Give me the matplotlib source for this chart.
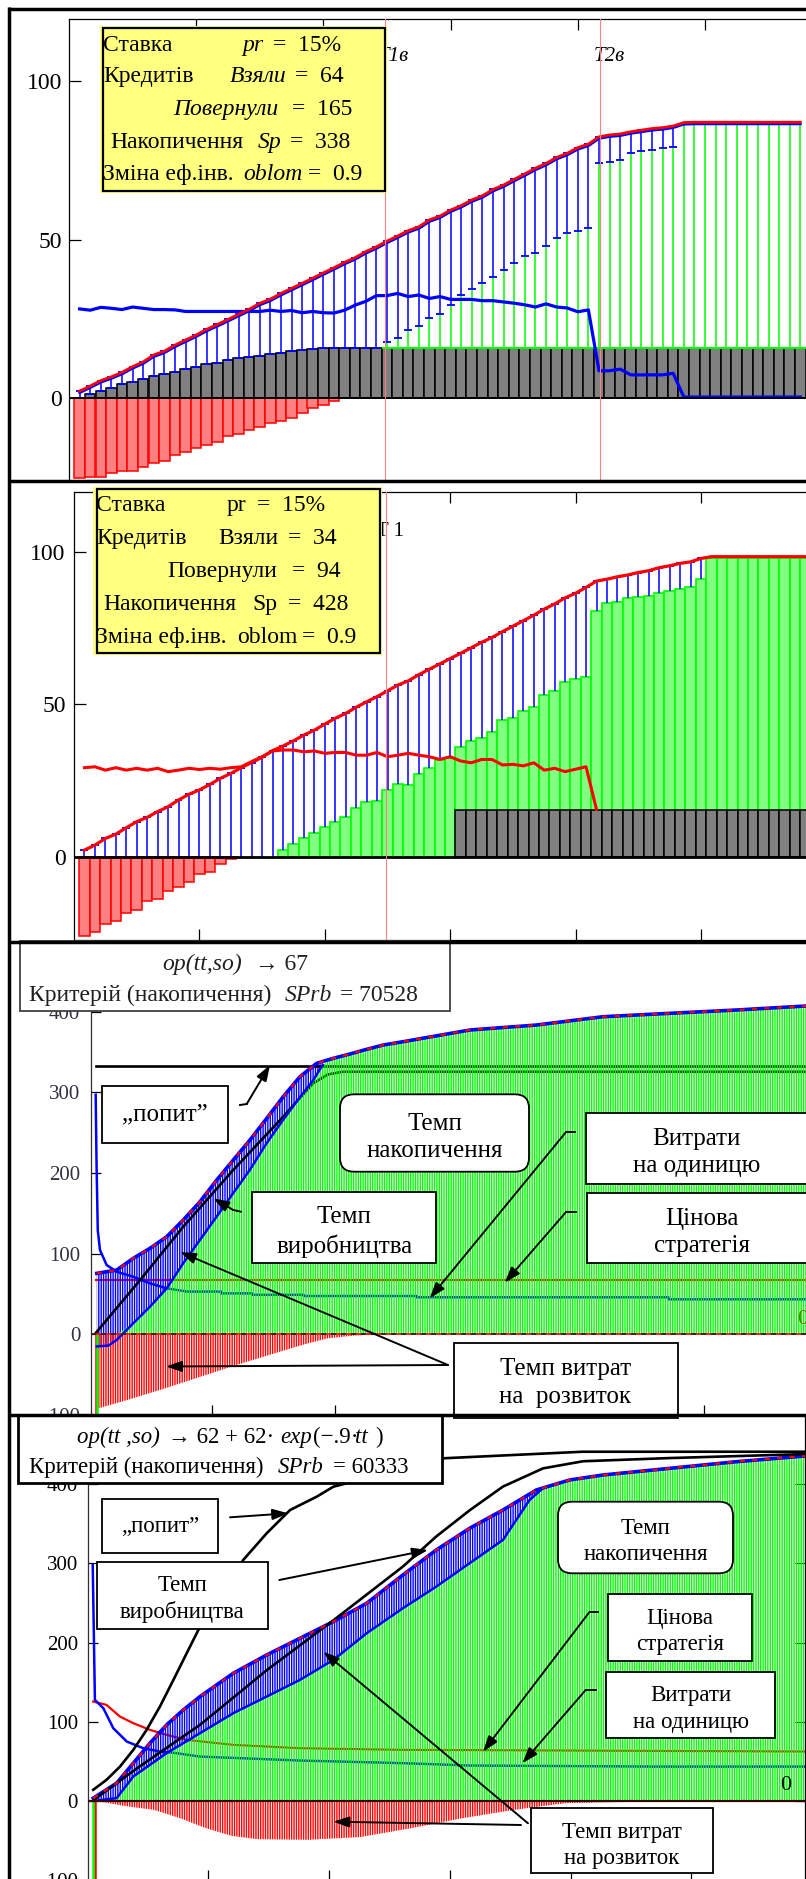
import numpy as np
import matplotlib
matplotlib.use("Agg")
import matplotlib.pyplot as plt
from matplotlib.patches import Rectangle, FancyBboxPatch, FancyArrowPatch
from matplotlib.lines import Line2D
from matplotlib.transforms import Affine2D, offset_copy

W, H = 806, 1879
plt.rcParams["font.family"] = ["Liberation Serif", "DejaVu Serif"]
plt.rcParams["hatch.linewidth"] = 1.0
plt.rcParams["axes.linewidth"] = 0.9

# ---------------------------------------------------------------- data
# Panel 1 (monthly, credit taken): top of the accumulation, lower end of the
# blue range, stock bars, development spending, unit costs
P1_TOP = [2.2, 3.8, 5.5, 6.7, 8.1, 9.9, 11.4, 13.6, 14.8, 16.7,
          18.3, 19.9, 21.7, 23.2, 24.8, 26.4, 28.0, 29.9, 31.2, 33.0,
          34.6, 36.2, 37.8, 39.5, 41.1, 42.8, 44.3, 46.2, 47.7, 49.5,
          51.1, 52.8, 54.0, 56.2, 57.4, 59.3, 60.7, 62.5, 63.8, 65.8,
          67.2, 69.0, 70.7, 72.5, 74.0, 75.9, 77.2, 79.0, 80.1, 82.4,
          83.0, 83.3, 84.0, 84.5, 85.0, 85.3, 85.8, 86.9, 87.0, 87.0,
          87.0, 87.0, 87.0, 87.0, 87.0, 87.0, 87.0, 87.0, 87.0]
P1_LOW = [0.0, 1.3, 2.2, 3.3, 4.3, 5.1, 6.1, 7.0, 7.5, 8.3,
          9.3, 9.9, 10.7, 11.1, 12.0, 12.5, 13.0, 13.4, 13.9, 14.3,
          14.8, 15.3, 15.4, 15.8, 15.9, 15.9, 15.9, 15.9, 15.9, 17.8,
          18.8, 21.5, 22.8, 25.2, 26.6, 29.4, 32.6, 34.5, 36.4, 38.3,
          40.5, 42.5, 44.7, 45.8, 48.0, 50.4, 52.0, 52.8, 53.6, 74.2,
          74.5, 75.1, 77.4, 77.9, 78.3, 78.8, 79.3, 86.9, 87.0, 87.0,
          87.0, 87.0, 87.0, 87.0, 87.0, 87.0, 87.0, 87.0, 87.0]
P1_STOCK = [0.0, 1.3, 2.2, 3.3, 4.3, 5.1, 6.1, 7.0, 7.5, 8.3,
            9.3, 9.9, 10.7, 11.1, 12.0, 12.5, 13.0, 13.4, 13.9, 14.3,
            14.8, 15.3, 15.4, 15.8] + [15.9] * 45
P1_INVEST = [-25.3, -24.8, -24.8, -23.8, -22.9, -22.9, -21.7, -20.6, -19.8, -18.0,
             -16.9, -15.9, -14.8, -13.8, -12.0, -11.2, -10.1, -9.0, -8.0, -7.2,
             -6.4, -4.7, -3.1, -2.1, -0.9]
P1_COST = [28.1, 27.7, 28.6, 28.3, 27.9, 28.7, 28.3, 27.9, 27.9, 27.8,
           27.3, 27.3, 27.3, 27.3, 27.3, 27.3, 27.3, 27.3, 27.7, 27.3,
           27.6, 26.9, 27.3, 26.9, 26.8, 27.7, 29.3, 30.5, 32.3, 32.3,
           33.0, 32.0, 32.5, 31.4, 32.0, 31.1, 31.1, 31.1, 30.7, 30.7,
           30.3, 29.9, 29.4, 28.7, 29.7, 28.7, 28.4, 27.2, 27.8, 8.6,
           8.6, 9.1, 7.3, 7.3, 7.3, 7.3, 7.8, 0.3, 0.3, 0.3,
           0.3, 0.3, 0.3, 0.3, 0.3, 0.3, 0.3, 0.3, 0.3]
T1_MONTH = 29.85
T2_MONTH = 50.1

# Panel 2 (monthly, own funds)
P2_TOP = [2.2, 3.8, 6.0, 7.4, 9.5, 11.5, 12.9, 14.8, 16.4, 18.6,
          20.5, 21.9, 23.7, 25.7, 27.3, 29.2, 30.9, 32.6, 34.8, 36.3,
          38.0, 39.9, 41.5, 43.5, 45.4, 47.0, 49.0, 50.8, 52.5, 54.4,
          56.3, 57.7, 59.7, 61.5, 63.2, 65.0, 66.7, 68.5, 70.3, 71.9,
          73.8, 75.6, 77.4, 79.2, 81.2, 82.9, 84.9, 86.4, 88.3, 90.4,
          91.0, 91.8, 92.4, 93.2, 93.8, 94.8, 95.4, 96.2, 96.7, 97.8,
          98.4, 98.4, 98.4, 98.4, 98.4, 98.4, 98.4, 98.4, 98.4, 98.4]
P2_GREEN = [0.0] * 19 + [
    2.2, 4.2, 6.0, 7.7, 9.8, 11.5, 12.9, 15.9, 17.8, 18.4,
    21.9, 23.8, 23.5, 27.1, 29.2, 31.7, 32.3, 36.1, 38.0, 39.0,
    41.0, 44.8, 45.4, 47.9, 49.0, 53.2, 54.3, 57.2, 58.2, 59.0,
    80.7, 83.1, 83.6, 84.7, 85.2, 85.6, 86.6, 87.1, 87.7, 88.5,
    91.0] + [97.8] * 10
P2_STOCK = [0.0] * 36 + [15.3] * 34
P2_INVEST = [-25.9, -24.6, -22.1, -21.1, -18.6, -17.3, -14.5, -13.7, -11.2, -9.8,
             -8.2, -5.7, -4.9, -2.4, -0.8]
P2_PRICE = [29.2, 29.5, 28.4, 29.2, 28.4, 29.0, 28.4, 29.0, 27.9, 28.4,
            29.0, 28.6, 29.0, 28.7, 29.2, 29.5, 31.2, 32.8, 34.7, 35.0,
            35.0, 34.4, 34.7, 33.9, 34.2, 34.2, 33.3, 33.3, 34.2, 32.8,
            33.3, 33.9, 33.3, 32.8, 31.9, 32.8, 31.4, 30.8, 31.9, 31.9,
            30.1, 30.3, 29.8, 30.8, 28.4, 29.0, 27.9, 28.7, 29.5, 15.5]

MONTH_TICKS = [12, 24, 36, 48, 60]
Y_TICKS_12 = [0, 50, 100]

# Panel 3 (op -> 67)
P3_TOP_X = [3.3, 11.4, 18.1, 24.9, 31.7, 38.4, 45.2, 52.0, 58.7, 65.5, 72.3, 79.0,
            85.8, 92.6, 99.3, 106.1, 112.9, 119.6, 127.6, 154.7, 181.8, 208.8,
            235.9, 262.9, 291.3]
P3_TOP_Y = [75.6, 79.7, 94.2, 106.6, 121.0, 141.7, 164.4, 191.3, 216.0, 240.9, 267.7,
            294.6, 319.4, 336.0, 342.1, 347.5, 353.3, 358.6, 362.7, 377.2, 383.4,
            393.7, 397.9, 402.0, 407.0]
P3_LOW_X = [3.3, 8.0, 11.4, 18.1, 24.9, 31.7, 38.4, 45.2, 52.0, 58.7, 65.5, 72.3,
            79.0, 85.8, 91.2, 95.0]
P3_LOW_Y = [-15.0, -14.0, -7.0, 13.6, 34.2, 57.0, 88.0, 117.0, 146.0, 175.0, 204.0,
            237.0, 266.0, 294.0, 315.0, 334.0]
P3_DEV_X = [3.7, 15.0, 30.0, 45.0, 60.0, 75.0, 88.0, 97.0, 108.0, 118.0]
P3_DEV_Y = [-92.0, -82.0, -68.0, -53.0, -38.0, -24.0, -12.0, -5.0, -1.5, 0.0]
P3_FIRST = (2.9, 3.3, -130.0)          # red stem x, green stem x, depth
P3_COST_X = [2.85, 3.2, 3.7, 4.6, 7.3, 11.4, 18.1, 24.9, 31.7, 40.0, 53.7, 53.8,
             66.3, 66.4, 87.2, 87.3, 133.1, 133.2, 235.4, 235.5, 291.3]
P3_COST_Y = [297.0, 212.0, 129.0, 104.5, 85.9, 77.6, 71.4, 63.2, 57.0, 53.0, 53.0,
             50.8, 50.8, 49.0, 49.0, 47.5, 47.5, 45.9, 45.9, 43.4, 43.4]
P3_PRICE_X = [3.0, 291.3]
P3_PRICE_Y = [67.0, 67.0]
P3_DEMAND_X = [3.0, 291.3]
P3_DEMAND_Y = [333.0, 333.0]
P3_PROD_X = [3.0, 20.9, 38.4, 58.7, 79.0, 91.2, 97.0, 103.0, 291.3]
P3_PROD_Y = [2.0, 67.3, 133.4, 203.7, 269.8, 311.2, 322.0, 325.5, 325.5]

# Panel 4 (op -> 62 + 62 exp(-.9 tt))
P4_TOP_X = [2.4, 12.1, 19.0, 25.9, 32.8, 39.7, 46.6, 60.4, 74.2, 88.0, 101.8, 115.6,
            130.6, 144.4, 158.2, 172.0, 185.8, 199.6, 213.4, 241.0, 268.6, 297.0]
P4_TOP_Y = [3.4, 22.3, 47.6, 72.9, 96.0, 114.9, 131.7, 161.2, 184.3, 205.4, 226.4,
            249.6, 285.4, 316.9, 344.3, 367.4, 392.7, 405.3, 411.6, 420.0, 428.4, 435.6]
P4_LOW_X = [3.0, 12.1, 19.0, 32.8, 46.6, 60.4, 74.2, 88.0, 101.8, 115.6, 130.6,
            144.4, 158.2, 172.0, 183.0, 188.6]
P4_LOW_Y = [0.0, 3.4, 30.7, 60.2, 85.4, 110.7, 131.7, 152.8, 178.0, 211.7, 243.3,
            270.6, 300.1, 329.5, 380.0, 395.0]
P4_DEV_X = [3.2, 17.0, 27.6, 38.3, 49.0, 59.6, 70.2, 91.5, 112.8, 134.1, 155.3,
            176.6, 197.9, 219.2, 246.9]
P4_DEV_Y = [0.0, -7.2, -11.4, -21.9, -34.5, -44.2, -48.4, -49.2, -45.8, -34.5,
            -21.9, -11.4, -2.9, -1.6, 0.0]
P4_FIRST = (3.3, 2.3, -130.0)
P4_PRICE_X = [2.4, 7.9, 13.5, 19.0, 25.9, 32.8, 41.1, 60.4, 88.0, 130.6, 297.0]
P4_PRICE_Y = [125.4, 121.2, 106.4, 98.1, 89.6, 83.3, 77.0, 70.7, 66.5, 64.4, 62.3]
P4_COST_X = [2.2, 3.1, 6.6, 10.7, 16.3, 23.1, 30.0, 37.0, 46.6, 88.0, 130.6, 158.2,
             234.0, 297.0]
P4_COST_Y = [298.0, 127.5, 117.0, 91.8, 74.9, 66.5, 62.3, 60.2, 55.9, 50.9, 47.6,
             44.6, 43.3, 43.3]
P4_DEMAND_X = [2.4, 7.9, 13.5, 19.0, 24.5, 30.0, 35.6, 41.1, 46.6, 64.5, 74.2, 83.9,
               94.9, 101.8, 147.2, 205.0, 297.0]
P4_DEMAND_Y = [13.9, 26.5, 43.3, 64.4, 89.6, 119.0, 152.8, 186.5, 220.0, 304.3, 338.0,
               367.4, 384.2, 396.8, 432.7, 441.0, 441.0]
P4_PROD_X = [3.0, 20.0, 46.6, 74.2, 101.8, 130.6, 144.4, 158.2, 172.0, 188.6, 205.2,
             241.0, 297.0]
P4_PROD_Y = [2.0, 40.0, 96.0, 165.0, 228.0, 296.0, 334.0, 367.0, 397.0, 420.0, 429.0,
             433.0, 438.0]

TT_TICKS = [50, 100, 150, 200, 250]
Y_TICKS_34 = [-100, 0, 100, 200, 300, 400]

BLUE, RED, GREEN = "#0000FF", "#FF0000", "#00FF00"
HATCH = "|" * 7

# ---------------------------------------------------------------- figure
fig = plt.figure(figsize=(W / 100, H / 100), dpi=100)
fig.patch.set_facecolor("white")
PX = Affine2D().scale(1 / W, -1 / H).translate(0, 1) + fig.transFigure


def px_axes(left, top, right, bottom):
    return fig.add_axes([left / W, 1 - bottom / H, (right - left) / W, (bottom - top) / H])


def label(x, y, s, size, ha="left", style="normal", color="black"):
    fig.text(x, y + 0.1 * size * 100 / 72, s, transform=PX, ha=ha, va="center",
             fontsize=size, style=style, color=color, zorder=4)


def box(x0, y0, x1, y1, lw=1.3, ec="black", fc="white", rounded=False):
    if rounded:
        p = FancyBboxPatch((x0, y0), x1 - x0, y1 - y0,
                           boxstyle="round,pad=0,rounding_size=14", transform=PX,
                           facecolor=fc, edgecolor=ec, linewidth=lw, zorder=2)
    else:
        p = Rectangle((x0, y0), x1 - x0, y1 - y0, transform=PX,
                      facecolor=fc, edgecolor=ec, linewidth=lw, zorder=2)
    fig.add_artist(p)


def arrow(pts, lw=1.4):
    xs = [p[0] for p in pts]
    ys = [p[1] for p in pts]
    if len(pts) > 2:
        fig.add_artist(Line2D(xs[:-1], ys[:-1], transform=PX, color="black", lw=lw, zorder=5))
    fig.add_artist(FancyArrowPatch(pts[-2], pts[-1], transform=PX,
                                   arrowstyle="-|>,head_length=0.95,head_width=0.33",
                                   mutation_scale=10, color="black", lw=lw,
                                   shrinkA=0, shrinkB=0, zorder=5))


def region(ax, ux, uy, lx, ly, color, z):
    px_ = np.r_[np.asarray(ux, float), np.asarray(lx, float)[::-1]]
    py_ = np.r_[np.asarray(uy, float), np.asarray(ly, float)[::-1]]
    ax.fill(px_, py_, facecolor="none", edgecolor=color, hatch=HATCH,
            linewidth=0, zorder=z)


# ---------------------------------------------------------------- panel 1
ax1 = px_axes(69, 19, 69 + 72 * 10.6, 481)
ax1.set_xlim(0, 72)
ax1.set_ylim(-26.18, 119.56)
x1 = np.arange(1, len(P1_TOP) + 1)
top1, low1, stock1 = (np.asarray(a, float) for a in (P1_TOP, P1_LOW, P1_STOCK))
ax1.bar(x1, stock1, width=1.0, color="#808080", edgecolor="black", linewidth=1.1, zorder=2)
ax1.bar(x1[:len(P1_INVEST)], P1_INVEST, width=1.0, color="#FF8080", edgecolor=RED,
        linewidth=1.1, zorder=2)
g = low1 > stock1 + 0.5
ax1.vlines(x1[g], stock1[g], low1[g], color=GREEN, lw=1.1, zorder=3)
ax1.hlines(stock1[g], x1[g] - 0.5, x1[g] + 0.5, color=GREEN, lw=1.5, zorder=3)
b = top1 > low1 + 0.05
ax1.vlines(x1[b], low1[b], top1[b], color=BLUE, lw=1.1, zorder=4)
ax1.hlines(low1[b], x1[b] - 0.38, x1[b] + 0.38, color=BLUE, lw=1.3, zorder=4)
ax1.hlines(top1[b], x1[b] - 0.38, x1[b] + 0.38, color=BLUE, lw=1.3, zorder=4)
ax1.plot(x1, top1, color=BLUE, lw=1.8, zorder=4,
         transform=offset_copy(ax1.transData, fig=fig, x=0, y=-1.8, units="dots"))
ax1.plot(x1, P1_COST, color=BLUE, lw=2.3, zorder=5)
ax1.plot(x1, top1, color=RED, lw=2.0, zorder=6)
ax1.axhline(0, color="black", lw=1.4, zorder=5)
for t in (T1_MONTH, T2_MONTH):
    ax1.axvline(t, color="#FF8080", lw=0.8, zorder=7)
ax1.text(T1_MONTH - 0.75, 107.6, "T1в", style="italic", fontsize=15, va="center")
ax1.text(T2_MONTH - 0.6, 107.6, "T2в", style="italic", fontsize=15, va="center")
for s in ("right", "bottom"):
    ax1.spines[s].set_visible(False)
ax1.set_yticks(Y_TICKS_12)
ax1.set_yticklabels([str(v) for v in Y_TICKS_12])
ax1.tick_params(axis="y", direction="in", length=8.6, width=0.9, labelsize=17, pad=5)
ax1.set_xticks(MONTH_TICKS)
ax1.tick_params(axis="x", direction="in", length=8, width=0.9, top=True, bottom=False,
                labeltop=False, labelbottom=False)

# ---------------------------------------------------------------- panel 2
ax2 = px_axes(74, 491.7, 74 + 74 * 10.45, 940)
ax2.set_xlim(0, 74)
ax2.set_ylim(-27.3, 119.7)
x2 = np.arange(1, len(P2_TOP) + 1)
top2, green2, stock2 = (np.asarray(a, float) for a in (P2_TOP, P2_GREEN, P2_STOCK))
gm = green2 > 0
ax2.bar(x2[gm], green2[gm], width=1.0, color="#80FF80", edgecolor=GREEN, linewidth=1.2, zorder=2)
sm = stock2 > 0
ax2.bar(x2[sm], stock2[sm], width=1.0, color="#808080", edgecolor="black", linewidth=1.1, zorder=3)
ax2.bar(x2[:len(P2_INVEST)], P2_INVEST, width=1.0, color="#FF8080", edgecolor=RED,
        linewidth=1.1, zorder=2)
b2 = top2 > green2 + 1.0
ax2.vlines(x2[b2], green2[b2], top2[b2], color=BLUE, lw=1.1, zorder=4)
ax2.hlines(top2[b2], x2[b2] - 0.38, x2[b2] + 0.38, color=BLUE, lw=1.3, zorder=4)
ax2.plot(np.arange(1, len(P2_PRICE) + 1), P2_PRICE, color=RED, lw=2.2, zorder=5)
ax2.plot(x2, top2, color=RED, lw=2.3, zorder=6)
ax2.axhline(0, color="black", lw=2.0, zorder=5)
ax2.axvline(T1_MONTH, color="#FF8080", lw=0.8, zorder=7)
ax2.text(T1_MONTH - 0.95, 106.5, "T 1", fontsize=15, va="center")
ax2.spines["right"].set_visible(False)
ax2.set_yticks(Y_TICKS_12)
ax2.set_yticklabels([str(v) for v in Y_TICKS_12])
ax2.tick_params(axis="y", direction="in", length=8.6, width=0.9, labelsize=17, pad=6)
ax2.set_xticks(MONTH_TICKS)
ax2.tick_params(axis="x", direction="in", length=8, width=0.9, top=True, bottom=True,
                labeltop=False, labelbottom=False)


# ---------------------------------------------------------------- panels 3 and 4
def dense_panel(ax, top_x, top_y, low_x, low_y, dev_x, dev_y, first,
                cost_x, cost_y, price_x, price_y, black_lines, black_z):
    tx, ty = np.asarray(top_x, float), np.asarray(top_y, float)
    lx, ly = np.asarray(low_x, float), np.asarray(low_y, float)
    end = lx[-1]
    up = tx < end
    # production range (blue ladder)
    region(ax, tx[up], ty[up], lx, ly, BLUE, 2)
    # accumulation (green stems)
    after = tx > end
    gx = np.r_[lx, tx[after]]
    gy = np.r_[np.clip(ly, 0, None), ty[after]]
    region(ax, gx, gy, gx, np.zeros_like(gy), GREEN, 3)
    # development spending (red stems)
    dx, dy = np.asarray(dev_x, float), np.asarray(dev_y, float)
    region(ax, dx, np.zeros_like(dy), dx, dy, RED, 3)
    ax.vlines([first[0]], [0], [first[2]], color=RED, lw=1.8, zorder=3)
    ax.vlines([first[1]], [0], [first[2]], color=GREEN, lw=1.8, zorder=3)
    # price strategy and unit costs
    ax.plot(price_x, price_y, color=RED, lw=1.6, zorder=1.5)
    ax.plot(cost_x, cost_y, color=BLUE, lw=1.8, zorder=1.6)
    for (bx, by) in black_lines:
        ax.plot(bx, by, color="black", lw=1.9, zorder=black_z)
    ax.plot(lx, ly, color=BLUE, lw=1.8, zorder=4)
    ax.plot(tx, ty, color=BLUE, lw=2.6, zorder=4)
    ax.plot(tx, ty, color=RED, lw=1.5, dashes=(2.5, 3.5), zorder=4.5)


ax3 = px_axes(90.7, 943, 830, 1415)
ax3.set_xlim(0.83, 301.0)
ax3.set_ylim(-100.0, 485.1)
dense_panel(ax3, P3_TOP_X, P3_TOP_Y, P3_LOW_X, P3_LOW_Y, P3_DEV_X, P3_DEV_Y, P3_FIRST,
            P3_COST_X, P3_COST_Y, P3_PRICE_X, P3_PRICE_Y,
            [(P3_DEMAND_X, P3_DEMAND_Y), (P3_PROD_X, P3_PROD_Y)], 2.5)
ax3.axhline(0, color=RED, lw=1.2, zorder=5)
ax3.axhline(0, color="#202020", lw=1.2, dashes=(3, 3), zorder=5.1)

ax4 = px_axes(88.3, 1415, 805, 1880)
ax4.set_xlim(0.37, 297.0)
ax4.set_ylim(-99.7, 487.4)
dense_panel(ax4, P4_TOP_X, P4_TOP_Y, P4_LOW_X, P4_LOW_Y, P4_DEV_X, P4_DEV_Y, P4_FIRST,
            P4_COST_X, P4_COST_Y, P4_PRICE_X, P4_PRICE_Y,
            [(P4_DEMAND_X, P4_DEMAND_Y), (P4_PROD_X, P4_PROD_Y)], 4.2)
ax4.axhline(0, color="#3A0000", lw=1.6, zorder=5)

for ax, lab_col in ((ax3, "#303040"), (ax4, "black")):
    ax.spines["top"].set_visible(False)
    ax.spines["left"].set_color("#303030")
    ax.set_yticks(Y_TICKS_34)
    ax.set_yticklabels([str(v) for v in Y_TICKS_34])
    ax.tick_params(axis="y", direction="in", length=7, width=0.9, labelsize=15,
                   pad=7.5, labelcolor=lab_col)
    ax.set_xticks(TT_TICKS)
    ax.tick_params(axis="x", direction="in", length=7, width=0.9, top=False, bottom=True,
                   labelbottom=False)
ax3.spines["right"].set_visible(False)
ax4.tick_params(axis="y", right=True)

# ---------------------------------------------------------------- panel 1/2 parameter boxes
BOX_FS = 17
box(100, 26, 387, 193, lw=0, fc="#FFFF80")
box(103, 28, 385, 191, lw=1.6, fc="none")
for s, x, y, st in [("Ставка", 103, 43, "normal"), ("pr", 242, 43, "italic"),
                    ("=  15%", 273, 43, "normal"),
                    ("Кредитів", 103, 74, "normal"), ("Взяли", 230, 74, "italic"),
                    ("=  64", 295, 74, "normal"),
                    ("Повернули", 173, 107, "italic"), ("=  165", 292, 107, "normal"),
                    ("Накопичення", 110, 140, "normal"), ("Sp", 258, 140, "italic"),
                    ("=  338", 290, 140, "normal"),
                    ("Зміна еф.інв.", 103, 172, "normal"), ("oblom", 243, 172, "italic"),
                    ("=  0.9", 308, 172, "normal")]:
    label(x, y, s, BOX_FS, style=st)

box(93, 486.7, 382, 655, lw=0, fc="#FFFF80")
box(96.7, 489, 380, 653, lw=1.6, fc="none")
for s, x, y in [("Ставка", 96, 503), ("pr", 227, 503), ("=  15%", 257, 503),
                ("Кредитів", 96, 535.7), ("Взяли", 218, 535.7), ("=  34", 288, 535.7),
                ("Повернули", 167, 569), ("=  94", 292, 569),
                ("Накопичення", 103, 602), ("Sp", 252, 602), ("=  428", 288, 602),
                ("Зміна еф.інв.", 96, 635), ("oblom", 237, 635), ("=  0.9", 302, 635)]:
    label(x, y, s, BOX_FS)

# ---------------------------------------------------------------- panel 3 annotations
HDR3, ANN3 = 17.0, 18.0
box(20, 941, 449.5, 1011, lw=1.3, ec="#404040")
label(162, 962, "op(tt,so)", HDR3, style="italic", color="#202020")
label(255, 962, "→ 67", HDR3, color="#202020")
label(29.3, 993.3, "Критерій (накопичення)", HDR3, color="#202020")
label(285, 993.3, "SPrb", HDR3, style="italic", color="#202020")
label(340, 993.3, "= 70528", HDR3, color="#202020")

box(101.7, 1085.7, 227.7, 1142.7)
label(164.7, 1112, "„попит”", ANN3, ha="center")
arrow([(240, 1105), (246.7, 1104), (270, 1065)])
box(340, 1094.3, 529, 1171.7, rounded=True)
label(434.5, 1121.7, "Темп", ANN3, ha="center")
label(434.5, 1148.3, "накопичення", ANN3, ha="center")
box(252.3, 1192.3, 436.3, 1263.3)
label(344.3, 1215, "Темп", ANN3, ha="center")
label(344.3, 1243.3, "виробництва", ANN3, ha="center")
arrow([(241, 1211.7), (233.3, 1210), (213.3, 1198.3)])
box(585.7, 1112.7, 830, 1184)
label(696.3, 1136.7, "Витрати", ANN3, ha="center")
label(696.3, 1163.3, "на одиницю", ANN3, ha="center")
arrow([(574.7, 1131.7), (566.3, 1131.7), (429.7, 1298.3)])
box(587.3, 1192.7, 830, 1263.3)
label(702, 1216.7, "Цінова", ANN3, ha="center")
label(702, 1243.3, "стратегія", ANN3, ha="center")
arrow([(576.3, 1211.7), (566.3, 1211.7), (504.7, 1282.7)])
box(453.7, 1343.3, 678, 1418)
label(565.3, 1366.7, "Темп витрат", ANN3, ha="center")
label(565.3, 1395, "на  розвиток", ANN3, ha="center")
arrow([(448, 1365), (180, 1252)])
arrow([(448, 1365), (166, 1366.5)])
label(797, 1317, "0", 16, color="#707000")

# ---------------------------------------------------------------- panel 4 annotations
HDR4, ANN4 = 16.5, 16.5
box(18.3, 1415, 442.3, 1483.3, lw=2.0)
label(76.7, 1435, "op(tt ,so)", HDR4, style="italic")
label(167.7, 1435, "→ 62 + 62·", HDR4)
label(280, 1435, "exp", HDR4, style="italic")
label(313, 1435, "(−.9·", HDR4)
label(355, 1435, "tt", HDR4, style="italic")
label(375, 1435, ")", HDR4)
label(29, 1465, "Критерій (накопичення)", HDR4)
label(277.7, 1465, "SPrb", HDR4, style="italic")
label(333, 1465, "= 60333", HDR4)

box(101.7, 1499.3, 218.3, 1552.7)
label(160, 1524, "„попит”", ANN4, ha="center")
arrow([(230, 1517.3), (288.3, 1513.3)])
box(96.7, 1562.3, 267.7, 1628.7)
label(182.2, 1583.3, "Темп", ANN4, ha="center")
label(182.2, 1610, "виробництва", ANN4, ha="center")
arrow([(279.3, 1580), (428, 1550)])
box(558, 1501.7, 733, 1573.3, rounded=True)
label(645.5, 1526, "Темп", ANN4, ha="center")
label(645.5, 1552.7, "накопичення", ANN4, ha="center")
box(608, 1594.3, 752, 1660.7)
label(680, 1616, "Цінова", ANN4, ha="center")
label(680, 1642.3, "стратегія", ANN4, ha="center")
arrow([(598, 1611.7), (589.7, 1611.7), (483, 1751.7)])
box(606.3, 1671.7, 775.3, 1737.7)
label(690.8, 1693.3, "Витрати", ANN4, ha="center")
label(690.8, 1720, "на одиницю", ANN4, ha="center")
arrow([(596.3, 1690), (585.7, 1690), (522.3, 1763.3)])
box(530.7, 1808.3, 713, 1873.3)
label(621.8, 1830, "Темп витрат", ANN4, ha="center")
label(621.8, 1856.7, "на розвиток", ANN4, ha="center")
arrow([(528, 1823.3), (323.3, 1651.7)])
arrow([(521, 1825), (333.3, 1821.7)])
label(786, 1783, "0", 16, ha="center")

# ---------------------------------------------------------------- panel frames
for y in (9.2, 481, 941.8, 1414.8):
    fig.add_artist(Line2D([7.5, 806], [y, y], transform=PX, color="black", lw=2.5,
                          solid_capstyle="butt", zorder=10))
fig.add_artist(Line2D([9.2, 9.2], [7.5, 1879], transform=PX, color="black", lw=2.5,
                      solid_capstyle="butt", zorder=10))

fig.savefig("out.png", dpi=100, facecolor="white")
